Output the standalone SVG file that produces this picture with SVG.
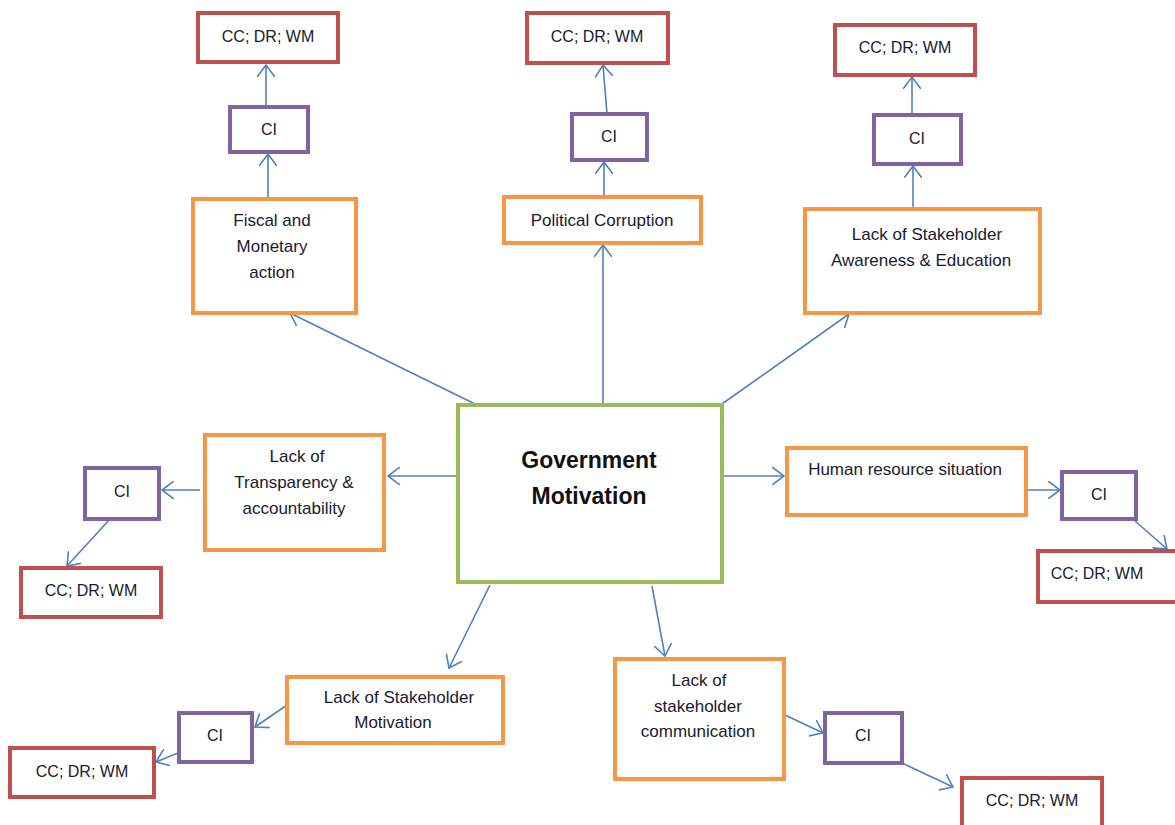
<svg xmlns="http://www.w3.org/2000/svg" width="1175" height="825" viewBox="0 0 1175 825">
<defs>
<style>
.box{fill:#fff;stroke-width:4;}
.o{stroke:#F79646;}
.r{stroke:#C0504D;}
.p{stroke:#8064A2;}
.g{stroke:#9BBB59;}
text{font-family:"Liberation Sans",Arial,sans-serif;fill:#1a1a2e;text-anchor:middle;}
.t{font-size:17px;}
.s{font-size:16px;}
.b{font-size:23px;font-weight:bold;fill:#111;}
.c path{fill:none;stroke:#4F81BD;stroke-width:1.6;marker-end:url(#a);}
</style>
<marker id="a" markerUnits="userSpaceOnUse" viewBox="0 0 13 18" refX="12" refY="9" markerWidth="13" markerHeight="18" orient="auto">
<path d="M0,0 L12,9 L0,18" fill="none" stroke="#4F81BD" stroke-width="1.6"/>
</marker>
</defs>
<rect width="1175" height="825" fill="#fff"/>

<g class="c" id="connectors">
<path d="M477,405 L290,313"/>
<path d="M603,405 L603,245"/>
<path d="M722,404 L849,314"/>
<path d="M458,476 L388,476"/>
<path d="M722,476 L784,476"/>
<path d="M490,585 L449,668"/>
<path d="M652,586 L665,656"/>
<path d="M268,199 L268,154"/>
<path d="M266,107 L266,65"/>
<path d="M604,197 L604,162"/>
<path d="M607,114 L603,65"/>
<path d="M913,209 L913,166"/>
<path d="M912,115 L912,77"/>
<path d="M200,490 L162,490"/>
<path d="M110,519 L67,566"/>
<path d="M1019,490 L1060,490"/>
<path d="M1135,521 L1167,549"/>
<path d="M287,705 L255,727"/>
<path d="M178,753 L156,762"/>
<path d="M785,715 L823,733"/>
<path d="M902,763 L953,787"/>
</g>

<g id="gov">
<rect class="box g" x="458" y="405" width="264" height="177"/>
<text class="b" x="589" y="468">Government</text>
<text class="b" x="589" y="504">Motivation</text>
</g>

<g id="fiscal">
<rect class="box o" x="193" y="199" width="163" height="114"/>
<text class="t" x="272" y="226">Fiscal and</text>
<text class="t" x="272" y="252">Monetary</text>
<text class="t" x="272" y="278">action</text>
</g>
<g id="ci-tl"><rect class="box p" x="230" y="107" width="78" height="45"/><text class="s" x="269" y="135">CI</text></g>
<g id="cc-tl"><rect class="box r" x="198" y="13" width="140" height="49"/><text class="s" x="268" y="42">CC; DR; WM</text></g>

<g id="political">
<rect class="box o" x="504" y="197" width="197" height="46"/>
<text class="t" x="602" y="226">Political Corruption</text>
</g>
<g id="ci-tm"><rect class="box p" x="572" y="114" width="75" height="46"/><text class="s" x="609" y="142">CI</text></g>
<g id="cc-tm"><rect class="box r" x="527" y="13" width="141" height="50"/><text class="s" x="597" y="42">CC; DR; WM</text></g>

<g id="awareness">
<rect class="box o" x="805" y="209" width="235" height="104"/>
<text class="t" x="927" y="240">Lack of Stakeholder</text>
<text class="t" x="921" y="266">Awareness &amp; Education</text>
</g>
<g id="ci-tr"><rect class="box p" x="874" y="115" width="87" height="49"/><text class="s" x="917" y="144">CI</text></g>
<g id="cc-tr"><rect class="box r" x="835" y="25" width="140" height="50"/><text class="s" x="905" y="53">CC; DR; WM</text></g>

<g id="transparency">
<rect class="box o" x="205" y="435" width="179" height="115"/>
<text class="t" x="297" y="462">Lack of</text>
<text class="t" x="294" y="488">Transparency &amp;</text>
<text class="t" x="294" y="514">accountability</text>
</g>
<g id="ci-l"><rect class="box p" x="85" y="468" width="74" height="51"/><text class="s" x="122" y="497">CI</text></g>
<g id="cc-l"><rect class="box r" x="21" y="568" width="140" height="49"/><text class="s" x="91" y="596">CC; DR; WM</text></g>

<g id="human">
<rect class="box o" x="787" y="448" width="239" height="67"/>
<text class="t" x="905" y="475">Human resource situation</text>
</g>
<g id="ci-r"><rect class="box p" x="1062" y="472" width="74" height="47"/><text class="s" x="1099" y="500">CI</text></g>
<g id="cc-r"><rect class="box r" x="1038" y="551" width="140" height="51"/><text class="s" x="1097" y="579">CC; DR; WM</text></g>

<g id="motivation">
<rect class="box o" x="287" y="677" width="216" height="66"/>
<text class="t" x="399" y="703">Lack of Stakeholder</text>
<text class="t" x="393" y="728">Motivation</text>
</g>
<g id="ci-bl"><rect class="box p" x="179" y="713" width="73" height="49"/><text class="s" x="215" y="741">CI</text></g>
<g id="cc-bl"><rect class="box r" x="10" y="748" width="144" height="49"/><text class="s" x="82" y="777">CC; DR; WM</text></g>

<g id="communication">
<rect class="box o" x="615" y="659" width="169" height="120"/>
<text class="t" x="699" y="686">Lack of</text>
<text class="t" x="698" y="712">stakeholder</text>
<text class="t" x="698" y="737">communication</text>
</g>
<g id="ci-br"><rect class="box p" x="825" y="713" width="77" height="50"/><text class="s" x="863" y="741">CI</text></g>
<g id="cc-br"><rect class="box r" x="962" y="778" width="140" height="52"/><text class="s" x="1032" y="806">CC; DR; WM</text></g>
</svg>
